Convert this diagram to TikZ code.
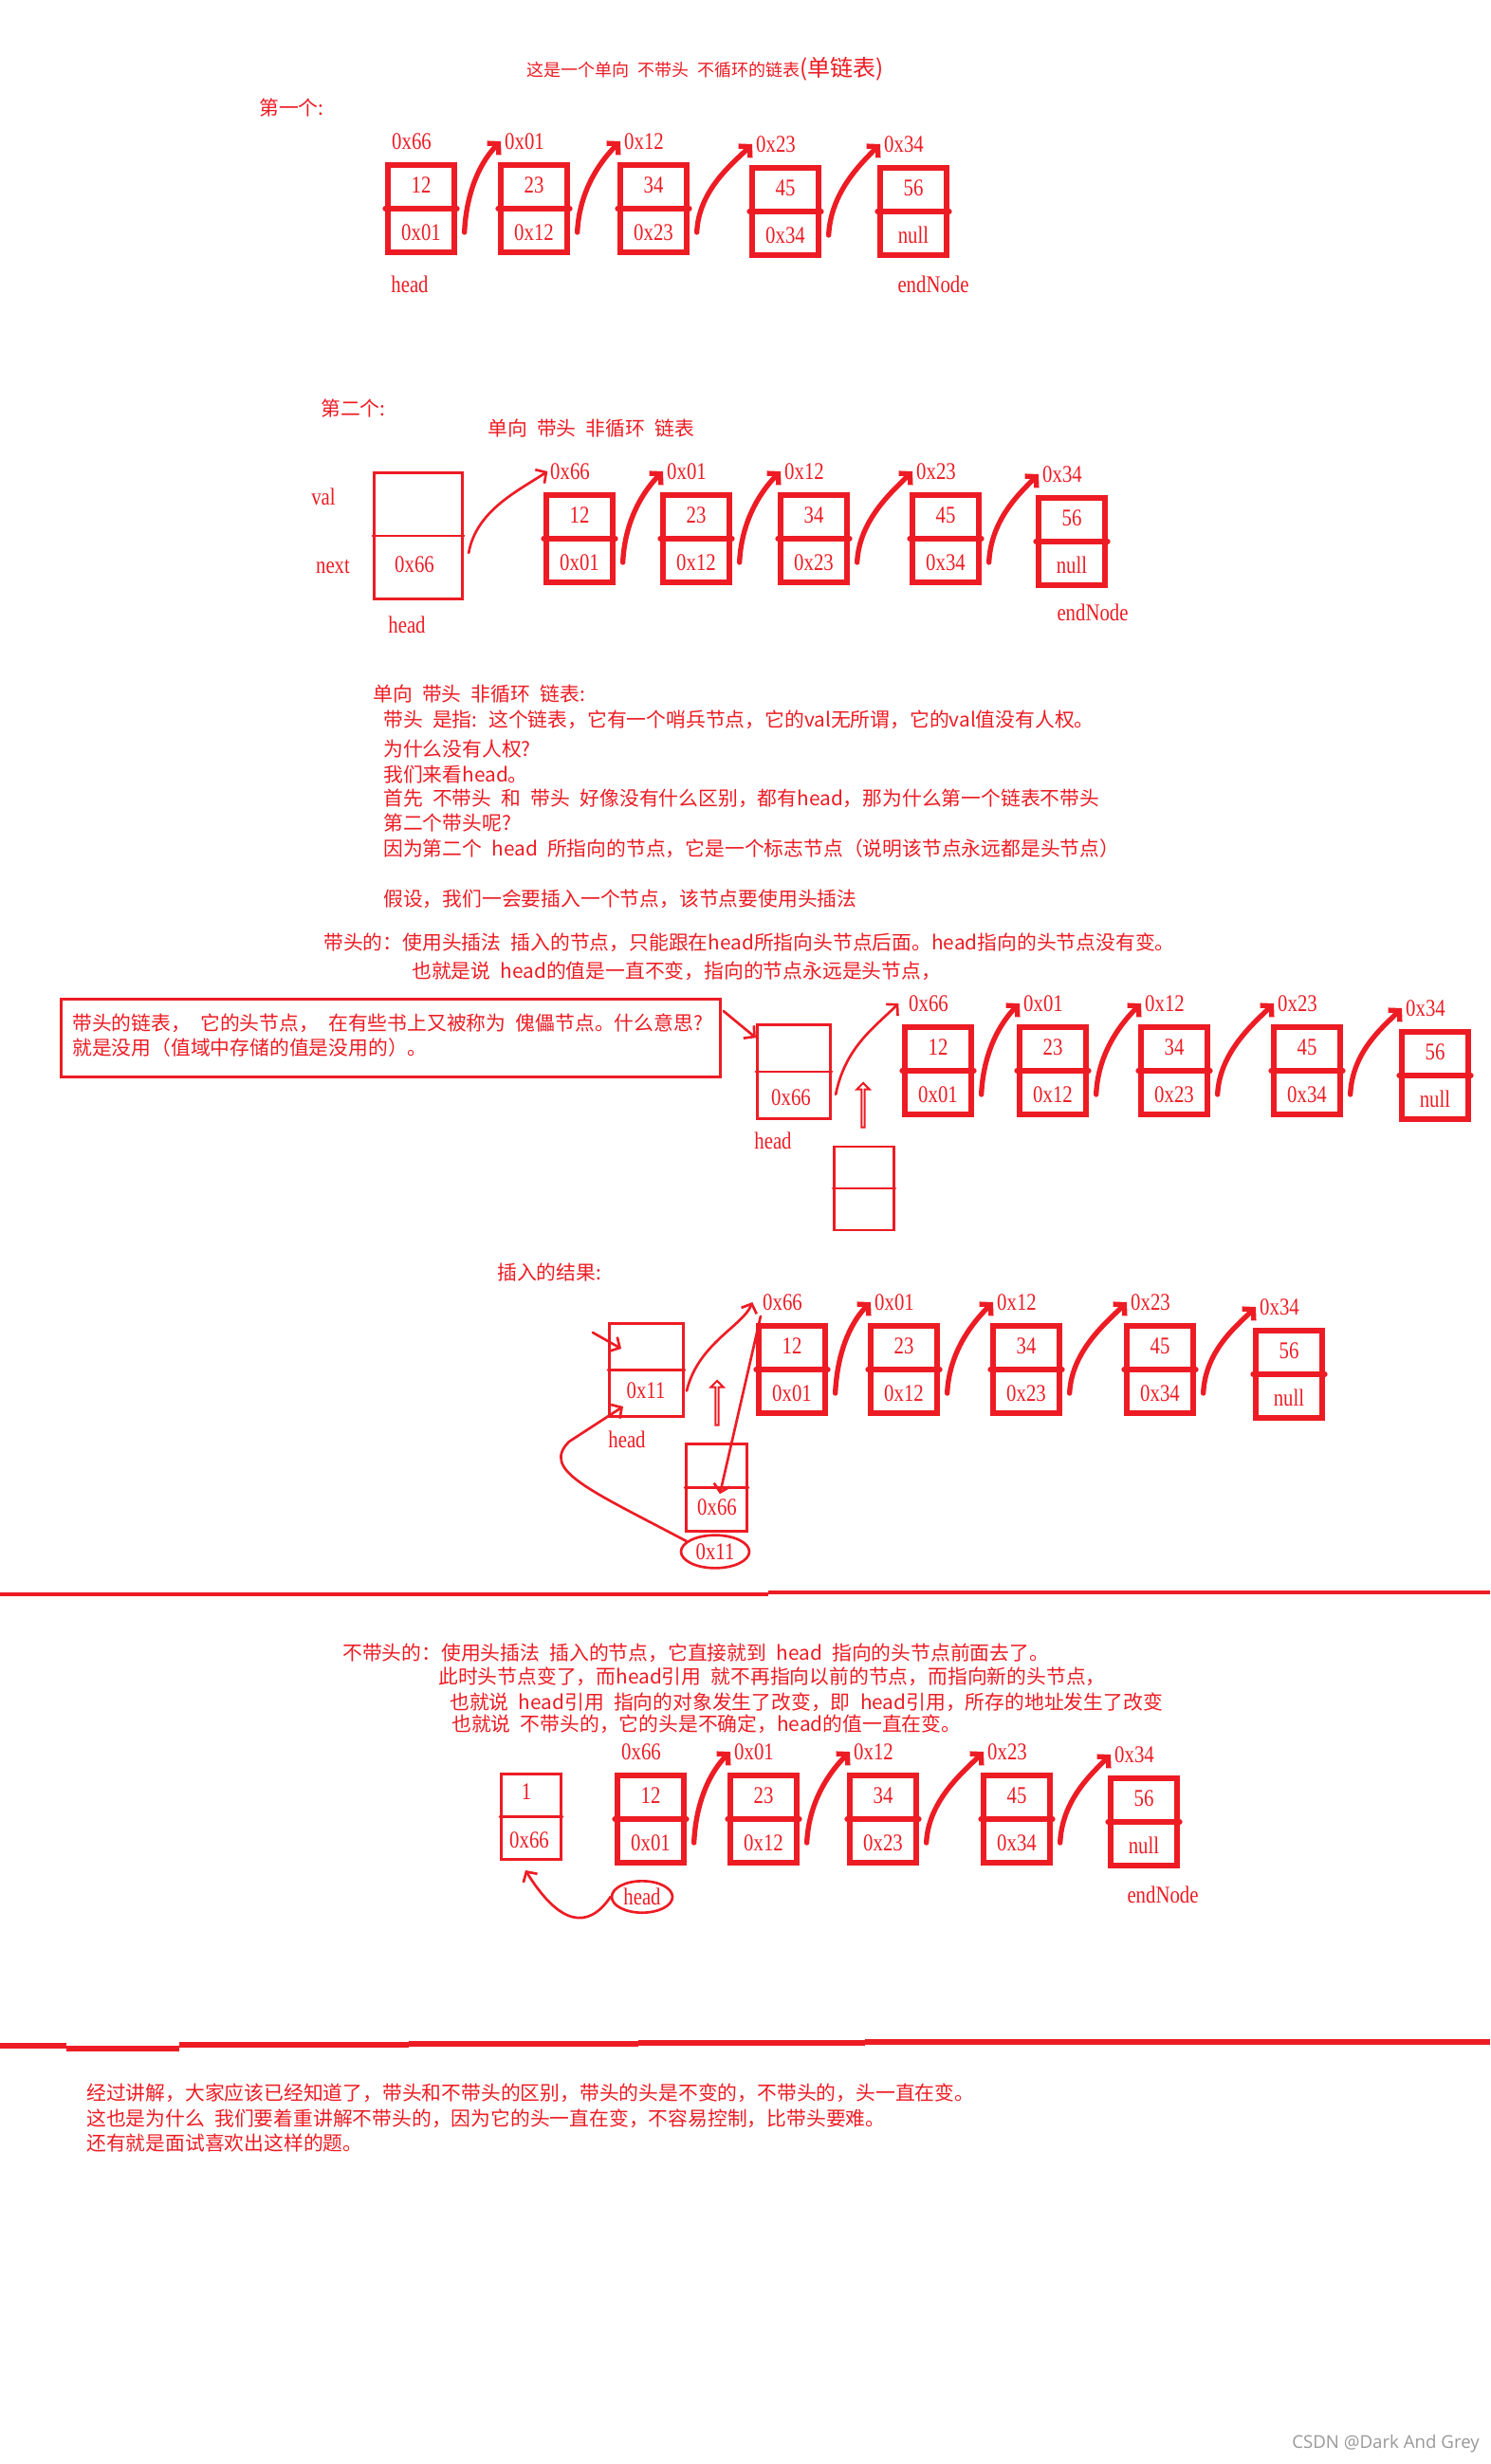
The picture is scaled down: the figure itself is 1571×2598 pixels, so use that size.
\documentclass[tikz,border=0pt]{standalone}
\usepackage{fontspec}
\setmainfont{Noto Sans CJK SC}[WordSpace=2.2]
\newfontfamily\boxfont{Liberation Serif}[FakeStretch=0.82]
\newfontfamily\markfont{Open Sans}
\usetikzlibrary{calc,arrows.meta,shapes.geometric,shapes.arrows}
\definecolor{paintred}{HTML}{ED1C24}

% one row of five list nodes, linked by thick arrows
\newcommand{\listrow}[2]{%
  \foreach \cx/\cy/\val/\nxt/\adr [count=\i] in {#2} {
    \node[cell] (#1b\i) at (\cx,\cy) {};
    \draw[cell rule] (#1b\i.west) -- (#1b\i.east);
    \node[lbl] (#1v\i) at (\cx,\cy-25) {\val};
    \node[lbl] (#1n\i) at (\cx,\cy+25) {\nxt};
    \node[lbl] (#1a\i) at (\cx-10,\cy-71) {\adr};
  }
  \foreach \i [evaluate=\i as \j using int(\i+1)] in {1,...,4}
    \draw[link] ($(#1n\i -| #1b\i.east)+(8,0)$)
      .. controls +(2,-45) and +(-20,20) .. ([xshift=-3pt]#1a\j.west);
}

\begin{document}
\begin{tikzpicture}[
  x=0.75pt,y=-0.75pt,line cap=round,
  every node/.style={inner sep=0pt,text=paintred},
  txt/.style={anchor=west,font=\fontsize{15.6}{18}\selectfont},
  lbl/.style={font=\boxfont\fontsize{19}{21}\selectfont},
  cell/.style={draw=paintred,line width=4.5pt,minimum width=52pt,minimum height=69pt},
  cell rule/.style={draw=paintred,line width=4.5pt},
  thin box/.style={draw=paintred,line width=2.2pt},
  thin rule/.style={draw=paintred,line width=2.2pt},
  link/.style={draw=paintred,line width=4pt,-{Straight Barb[length=6pt,width=13pt]}},
  thin link/.style={draw=paintred,line width=2pt,-{Straight Barb[length=6pt,width=13pt]}},
  hollow up/.style={draw=paintred,line width=1.5pt,single arrow,shape border rotate=90,
    minimum height=35pt,minimum width=10pt,single arrow head extend=2.5pt,line cap=butt},
  ring/.style={draw=paintred,line width=2pt,ellipse},
  rule/.style={draw=paintred,line width=3pt,line cap=butt}
]
  \fill[white] (0,0) rectangle (1571,2598);
  \useasboundingbox (0,0) rectangle (1571,2598);

  % first list: no head
  \node[anchor=west,font=\fontsize{13.5}{16}\selectfont] (title) at (555,73)
    {这是一个单向 不带头 不循环的链表{\fontsize{18}{20}\selectfont(单链表)}};
  \node[txt] (first) at (273,114) {第一个:};
  \listrow{s1}{444/220/12/0x01/0x66, 563/220/23/0x12/0x01, 689/220/34/0x23/0x12,
    828/223/45/0x34/0x23, 963/223/56/null/0x34}
  \node[lbl] (s1head) at (432,300) {head};
  \node[lbl] (s1end) at (984,300) {endNode};

  % second list: with head
  \node[txt] (second) at (338,431) {第二个:};
  \node[txt] (s2title) at (514,452) {单向 带头 非循环 链表};
  \node[thin box,minimum width=70pt,minimum height=100pt] (s2hb) at (441,565) {};
  \draw[thin rule] (s2hb.west) -- (s2hb.east);
  \node[lbl] (s2val) at (341,524) {val};
  \node[lbl] (s2next) at (351,597) {next};
  \node[lbl] (s2hn) at (437,595) {0x66};
  \node[lbl] (s2head) at (429,659) {head};
  \listrow{s2}{611/568/12/0x01/0x66, 734/568/23/0x12/0x01, 858/568/34/0x23/0x12,
    997/568/45/0x34/0x23, 1130/571/56/null/0x34}
  \node[lbl] (s2end) at (1152,646) {endNode};
  \draw[thin link] ($(s2hb.east)+(5,18)$)
    .. controls +(8,-45) and +(-30,20) .. ([xshift=-2pt]s2a1.west);

  \node[txt] (def1) at (393,732) {单向 带头 非循环 链表:};
  \node[txt] (def2) at (404,759) {带头 是指:  这个链表，它有一个哨兵节点，它的val无所谓，它的val值没有人权。};
  \node[txt] (def3) at (404,790) {为什么没有人权?};
  \node[txt] (def4) at (404,817) {我们来看head。};
  \node[txt] (def5) at (404,842) {首先 不带头 和 带头 好像没有什么区别，都有head，那为什么第一个链表不带头};
  \node[txt] (def6) at (404,868) {第二个带头呢?};
  \node[txt] (def7) at (404,895) {因为第二个 head 所指向的节点，它是一个标志节点（说明该节点永远都是头节点）};
  \node[txt] (def8) at (404,948) {假设，我们一会要插入一个节点，该节点要使用头插法};
  \node[txt] (def9) at (341,994) {带头的：使用头插法 插入的节点，只能跟在head所指向头节点后面。head指向的头节点没有变。};
  \node[txt] (def10) at (434,1024) {也就是说 head的值是一直不变，指向的节点永远是头节点，};

  % sentinel node before the insertion
  \node[thin box,minimum width=521pt,minimum height=61.5pt] (note) at (412,1094.5) {};
  \node[txt] (note1) at (76,1079) {带头的链表， 它的头节点， 在有些书上又被称为 傀儡节点。什么意思?};
  \node[txt] (note2) at (76,1105) {就是没用（值域中存储的值是没用的）。};
  \node[thin box,minimum width=58pt,minimum height=74pt] (s3hb) at (837,1130) {};
  \draw[thin rule] (s3hb.west) -- (s3hb.east);
  \node[lbl] (s3hn) at (834,1157) {0x66};
  \node[lbl] (s3head) at (815,1203) {head};
  \draw[thin link] ($(note.north east)+(2,14)$) -- ($(s3hb.north west)+(0,15)$);
  \listrow{s3}{989/1129/12/0x01/0x66, 1110/1129/23/0x12/0x01, 1238/1129/34/0x23/0x12,
    1378/1129/45/0x34/0x23, 1513/1134/56/null/0x34}
  \draw[thin link] ($(s3hb.east)+(4,24)$)
    .. controls +(10,-50) and +(-25,25) .. ([xshift=-8pt]s3a1.west);
  \node[hollow up] (s3up) at (910,1166) {};
  \node[thin box,minimum width=47pt,minimum height=66pt] (s3nb) at (911,1253) {};
  \draw[thin rule] (s3nb.west) -- (s3nb.east);

  % after the insertion
  \node[txt] (result) at (524,1342) {插入的结果:};
  \node[thin box,minimum width=58.5pt,minimum height=73.5pt] (s4hb) at (681.5,1444.5) {};
  \draw[thin rule] (s4hb.west) -- (s4hb.east);
  \node[lbl] (s4hn) at (681,1466) {0x11};
  \node[lbl] (s4head) at (661,1518) {head};
  \coordinate (s4in) at (625,1405);
  \draw[thin link] (s4in) -- ($(s4hb.north west)+(14,28)$);
  \listrow{s4}{835/1444/12/0x01/0x66, 953/1444/23/0x12/0x01, 1082/1444/34/0x23/0x12,
    1223/1444/45/0x34/0x23, 1359/1449/56/null/0x34}
  \draw[thin link] ($(s4hb.east)+(2,22)$)
    .. controls +(12,-50) and +(-10,25) .. ([xshift=-8pt]s4a1.west);
  \node[hollow up] (s4up) at (756,1480) {};
  \node[thin box,minimum width=48pt,minimum height=69pt] (s4nb) at (755.5,1568.5) {};
  \draw[thin rule] (s4nb.west) -- (s4nb.east);
  \node[lbl] (s4nn) at (756,1589) {0x66};
  \draw[thin link] ($(s4a1.south west)+(-2,6)$) -- ($(s4nn.north)+(3,-5)$);
  \node[ring,lbl,minimum width=54pt,minimum height=26pt] (s4ring) at (754,1636) {0x11};
  \draw[thin link] (s4ring.160) .. controls (620,1570) and (570,1550) .. (600,1520)
    -- ($(s4hb.south west)+(16,-12)$);

  \draw[rule] (0,1681) -- (810,1681) (810,1679) -- (1571,1679);

  % third list: no head, head moves
  \node[txt] (s5t1) at (361,1743) {不带头的：使用头插法 插入的节点，它直接就到 head 指向的头节点前面去了。};
  \node[txt] (s5t2) at (462,1768) {此时头节点变了，而head引用 就不再指向以前的节点，而指向新的头节点，};
  \node[txt] (s5t3) at (474,1795) {也就说 head引用 指向的对象发生了改变，即 head引用，所存的地址发生了改变};
  \node[txt] (s5t4) at (476,1818) {也就说 不带头的，它的头是不确定，head的值一直在变。};
  \node[thin box,minimum width=47pt,minimum height=67.5pt] (s5nb) at (560,1915.5) {};
  \draw[thin rule] (s5nb.west) -- (s5nb.east);
  \node[lbl] (s5nv) at (555,1889) {1};
  \node[lbl] (s5nn) at (558,1940) {0x66};
  \listrow{s5}{686/1918/12/0x01/0x66, 805/1918/23/0x12/0x01, 931/1918/34/0x23/0x12,
    1072/1918/45/0x34/0x23, 1206/1921/56/null/0x34}
  \node[lbl] (s5end) at (1226,1998) {endNode};
  \node[ring,lbl,minimum width=48pt,minimum height=25pt] (s5ring) at (677,2000) {head};
  \draw[thin link] (s5ring.west) .. controls (620,2035) and (590,2030)
    .. ($(s5nb.south)+(-6,10)$);

  \draw[rule,line width=3.8pt] (0,2157) -- (70,2157) (70,2160) -- (189,2160)
    (189,2156) -- (431,2156) (431,2155) -- (673,2155) (673,2154) -- (912,2154)
    (912,2153) -- (1571,2153);

  \node[txt] (sum1) at (91,2207) {经过讲解，大家应该已经知道了，带头和不带头的区别，带头的头是不变的，不带头的，头一直在变。};
  \node[txt] (sum2) at (91,2234) {这也是为什么 我们要着重讲解不带头的，因为它的头一直在变，不容易控制，比带头要难。};
  \node[txt] (sum3) at (91,2260) {还有就是面试喜欢出这样的题。};

  \node[anchor=east,text=black!40,font=\markfont\fontsize{14}{16}\selectfont] (mark)
    at (1560,2577) {CSDN @Dark And Grey};
\end{tikzpicture}
\end{document}
